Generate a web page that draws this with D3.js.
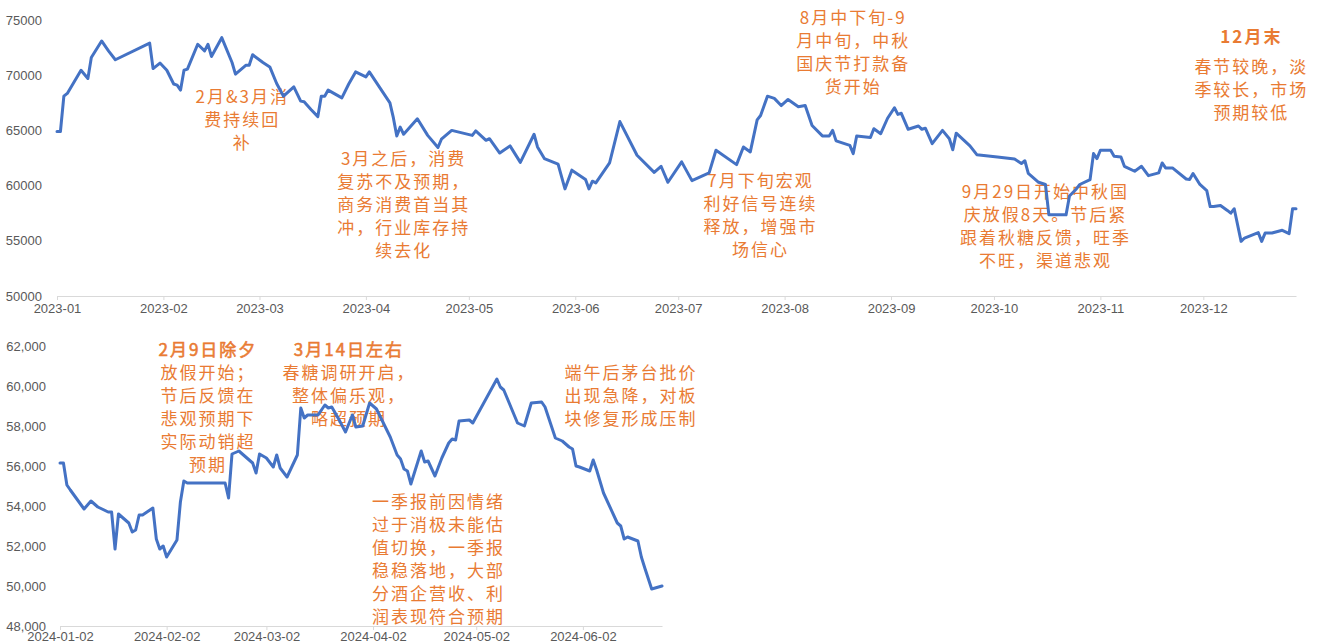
<!DOCTYPE html>
<html>
<head>
<meta charset="utf-8">
<script src="https://cdn.jsdelivr.net/npm/d3@7"></script>
<style>
  html, body { margin: 0; padding: 0; background: #ffffff; }
  svg { display: block; }
  .axis text { font-family: "Liberation Sans", Arial, sans-serif; font-size: 13px; fill: #595959; }
  .note { font-family: "Noto Sans CJK SC", sans-serif; font-size: 17px; fill: #E97B33; letter-spacing: 2px; }
</style>
</head>
<body>
<svg id="chart" width="1320" height="644"></svg>
<script>
// ---- 2023 series ----
const dates2023 = [
  "2023-01-01","2023-01-02","2023-01-03","2023-01-04","2023-01-08","2023-01-10","2023-01-11","2023-01-14","2023-01-16","2023-01-18",
  "2023-01-28","2023-01-29","2023-01-31","2023-02-02","2023-02-04","2023-02-05","2023-02-06","2023-02-07","2023-02-08","2023-02-11",
  "2023-02-13","2023-02-14","2023-02-15","2023-02-18","2023-02-21","2023-02-22","2023-02-25","2023-02-26","2023-02-27","2023-03-02",
  "2023-03-04","2023-03-06","2023-03-08","2023-03-11","2023-03-13","2023-03-14","2023-03-16","2023-03-18","2023-03-19","2023-03-20",
  "2023-03-21","2023-03-25","2023-03-27","2023-03-29","2023-04-01","2023-04-02","2023-04-05","2023-04-08","2023-04-09","2023-04-10",
  "2023-04-11","2023-04-12","2023-04-16","2023-04-19","2023-04-22","2023-04-23","2023-04-26","2023-05-02","2023-05-03","2023-05-06",
  "2023-05-07","2023-05-10","2023-05-13","2023-05-16","2023-05-20","2023-05-21","2023-05-23","2023-05-27","2023-05-29","2023-05-31",
  "2023-06-04","2023-06-05","2023-06-06","2023-06-07","2023-06-11","2023-06-14","2023-06-19","2023-06-24","2023-06-26","2023-06-28",
  "2023-07-02","2023-07-05","2023-07-10","2023-07-12","2023-07-18","2023-07-20","2023-07-22","2023-07-24","2023-07-25","2023-07-27",
  "2023-07-29","2023-07-31","2023-08-02","2023-08-05","2023-08-07","2023-08-09","2023-08-12","2023-08-14","2023-08-15","2023-08-16",
  "2023-08-20","2023-08-21","2023-08-22","2023-08-26","2023-08-27","2023-08-29","2023-08-31","2023-09-02","2023-09-03","2023-09-04",
  "2023-09-06","2023-09-09","2023-09-10","2023-09-11","2023-09-13","2023-09-16","2023-09-18","2023-09-19","2023-09-20","2023-09-24",
  "2023-09-26","2023-10-02","2023-10-07","2023-10-09","2023-10-10","2023-10-11","2023-10-14","2023-10-16","2023-10-17","2023-10-22",
  "2023-10-23","2023-10-25","2023-10-26","2023-10-29","2023-10-30","2023-10-31","2023-11-01","2023-11-04","2023-11-05","2023-11-07",
  "2023-11-08","2023-11-11","2023-11-13","2023-11-15","2023-11-18","2023-11-19","2023-11-20","2023-11-22","2023-11-26","2023-11-27",
  "2023-11-28","2023-11-30","2023-12-02","2023-12-03","2023-12-04","2023-12-06","2023-12-08","2023-12-09","2023-12-10","2023-12-12",
  "2023-12-13","2023-12-17","2023-12-18","2023-12-19","2023-12-21","2023-12-24","2023-12-26","2023-12-27","2023-12-28"
];
const values2023 = [
  64900,64900,68100,68350,70450,69700,71600,73100,72200,71400,
  72900,70600,71100,70450,69200,69100,68650,70450,70550,72800,
  72200,72800,71700,73400,71150,70100,70900,70900,71850,71150,
  70750,69250,68100,68950,67650,67600,66900,66250,68100,68100,
  68650,67950,69200,70300,69850,70300,68900,67500,66150,64500,
  65300,64650,66050,64550,63450,64200,65000,64550,64950,64100,
  64250,62950,63600,62100,64650,63500,62450,61950,59700,61400,
  60550,59700,60400,60250,62050,65800,62750,61200,61750,60300,
  62150,60450,61150,63200,61900,63500,63050,65950,66350,68100,
  67900,67250,67800,67150,67250,65450,64500,64500,65000,64050,
  63650,62900,64500,64350,65150,64700,66100,67050,66450,66550,
  65100,65400,65100,65200,63800,65000,64250,63250,64750,63600,
  62800,62600,62400,62000,62250,61100,60300,60100,57350,57350,
  59050,59700,60100,60550,62900,62450,63200,63200,62650,62600,
  61750,61300,61750,60900,61150,62050,61600,61600,60600,60550,
  61100,60100,59550,58100,58100,58200,57750,57500,57900,54950,
  55250,55750,54950,55700,55700,55950,55650,57900,57900
];

// ---- 2024 series ----
const dates2024 = [
  "2024-01-02","2024-01-03","2024-01-04","2024-01-05","2024-01-09","2024-01-11","2024-01-13","2024-01-16","2024-01-17","2024-01-18",
  "2024-01-19","2024-01-22","2024-01-23","2024-01-24","2024-01-25","2024-01-26","2024-01-29","2024-01-30","2024-01-31","2024-02-01",
  "2024-02-02","2024-02-05","2024-02-06","2024-02-07","2024-02-08","2024-02-19","2024-02-20","2024-02-21","2024-02-23","2024-02-27",
  "2024-02-28","2024-02-29","2024-03-02","2024-03-04","2024-03-05","2024-03-06","2024-03-08","2024-03-11","2024-03-12","2024-03-13",
  "2024-03-14","2024-03-17","2024-03-19","2024-03-20","2024-03-21","2024-03-23","2024-03-25","2024-03-27","2024-03-28","2024-03-30",
  "2024-04-01","2024-04-03","2024-04-07","2024-04-09","2024-04-10","2024-04-11","2024-04-12","2024-04-13","2024-04-16","2024-04-17",
  "2024-04-18","2024-04-20","2024-04-22","2024-04-24","2024-04-25","2024-04-26","2024-04-27","2024-04-30","2024-05-01","2024-05-08",
  "2024-05-09","2024-05-10","2024-05-14","2024-05-16","2024-05-18","2024-05-21","2024-05-22","2024-05-25","2024-05-27","2024-05-29",
  "2024-05-30","2024-05-31","2024-06-01","2024-06-04","2024-06-05","2024-06-06","2024-06-08","2024-06-12","2024-06-13","2024-06-14",
  "2024-06-15","2024-06-18","2024-06-19","2024-06-20","2024-06-22","2024-06-25"
];
const values2024 = [
  56150,56150,55050,54800,53850,54250,53950,53700,53700,51850,
  53600,53150,52700,52800,53550,53550,53900,52350,51850,52000,
  51450,52300,54200,55250,55150,55150,54400,56600,56750,56150,
  55650,56600,56400,55950,56550,55900,55450,56550,58900,58400,
  58550,58550,59050,58900,58950,58350,57700,58550,57950,58000,
  59150,58850,57450,56550,56350,55850,55750,55100,56750,56200,
  56250,55500,56400,57150,57350,57300,58250,58300,58150,60350,
  59950,59800,58150,58000,59150,59200,58950,57400,57250,56950,
  56850,56000,55950,55750,56300,55800,54650,53150,53000,52350,
  52450,52250,51450,50900,49850,50000
];

// ---- axis ticks ----
const ticks2023 = ["2023-01","2023-02","2023-03","2023-04","2023-05","2023-06","2023-07","2023-08","2023-09","2023-10","2023-11","2023-12"];
const ticks2024 = ["2024-01-02","2024-02-02","2024-03-02","2024-04-02","2024-05-02","2024-06-02"];
const yTicks2023 = [50000,55000,60000,65000,70000,75000];
const yTicks2024 = [48000,50000,52000,54000,56000,58000,60000,62000];

// ---- annotations, anchored at (date, value) of their first line ----
const notes2023 = [
  { at: ["2023-02-24", 68000], lines: ["2月&3月消", "费持续回", "补"] },
  { at: ["2023-04-12", 62400], lines: ["3月之后，消费", "复苏不及预期，", "商务消费首当其", "冲，行业库存持", "续去化"] },
  { at: ["2023-07-25", 60400], lines: ["7月下旬宏观", "利好信号连续", "释放，增强市", "场信心"] },
  { at: ["2023-08-21", 75200], lines: ["8月中下旬-9", "月中旬，中秋", "国庆节打款备", "货开始"] },
  { at: ["2023-10-16", 59450], lines: ["9月29日开始中秋国", "庆放假8天。节后紧", "跟着秋糖反馈，旺季", "不旺，渠道悲观"] },
  { at: ["2023-12-15", 73500], lines: ["12月末"], bold: true },
  { at: ["2023-12-15", 70700], lines: ["春节较晚，淡", "季较长，市场", "预期较低"] }
];
const notes2024 = [
  { at: ["2024-02-14", 61800], lines: ["2月9日除夕", "放假开始；", "节后反馈在", "悲观预期下", "实际动销超", "预期"], headline: true },
  { at: ["2024-03-26", 61800], lines: ["3月14日左右", "春糖调研开启，", "整体偏乐观，", "略超预期"], headline: true },
  { at: ["2024-04-21", 54200], lines: ["一季报前因情绪", "过于消极未能估", "值切换，一季报", "稳稳落地，大部", "分酒企营收、利", "润表现符合预期"] },
  { at: ["2024-06-16", 60650], lines: ["端午后茅台批价", "出现急降，对板", "块修复形成压制"] }
];

const svg = d3.select("#chart");
const parseDay = d3.timeParse("%Y-%m-%d");
const parseMonth = d3.timeParse("%Y-%m");
const noteColor = "#E97B33";

function drawPanel(cfg) {
  const g = svg.append("g");
  const data = cfg.dates.map((d, i) => ({ date: parseDay(d), value: cfg.values[i] }));

  const x = d3.scaleTime().domain(cfg.xDomain).range(cfg.xRange);
  const y = d3.scaleLinear().domain(cfg.yDomain).range(cfg.yRange);

  // x axis
  const xAxis = d3.axisBottom(x)
    .tickValues(cfg.xTicks.map(cfg.tickParse))
    .tickFormat(cfg.tickFormat)
    .tickSizeInner(4).tickSizeOuter(0).tickPadding(cfg.xLabelPad);
  const gx = g.append("g").attr("class", "axis")
    .attr("transform", `translate(0,${cfg.yRange[0]})`)
    .call(xAxis);
  gx.select(".domain").attr("stroke", "#d9d9d9").attr("stroke-width", 1);
  gx.selectAll(".tick line").attr("stroke", "#d9d9d9");

  // y axis labels only
  const yAxis = d3.axisLeft(y).tickValues(cfg.yTicks).tickFormat(cfg.yFormat)
    .tickSize(0).tickPadding(0);
  const gy = g.append("g").attr("class", "axis")
    .attr("transform", `translate(${cfg.yLabelX},0)`)
    .call(yAxis);
  gy.select(".domain").remove();

  // annotations
  cfg.notes.forEach(n => {
    const cx = x(parseDay(n.at[0]));
    const cy = y(n.at[1]);
    const t = g.append("text").attr("class", "note").attr("text-anchor", "middle");
    n.lines.forEach((line, i) => {
      const ts = t.append("tspan")
        .attr("x", cx)
        .attr("y", cy + i * 23)
        .attr("dy", "0.35em")
        .text(line);
      if (n.bold) {
        ts.attr("font-weight", 700);
      } else if (n.headline && i === 0) {
        // slightly heavier headline line
        ts.attr("stroke", noteColor).attr("stroke-width", 0.55);
      }
    });
  });

  // price line
  const line = d3.line().x(d => x(d.date)).y(d => y(d.value)).curve(d3.curveLinear);
  g.append("path").datum(data)
    .attr("fill", "none")
    .attr("stroke", "#4472C4")
    .attr("stroke-width", 3)
    .attr("stroke-linejoin", "round")
    .attr("stroke-linecap", "round")
    .attr("d", line);
}

drawPanel({
  dates: dates2023, values: values2023,
  xDomain: [parseDay("2023-01-01"), parseDay("2023-12-28")], xRange: [57, 1296],
  yDomain: [50000, 75000], yRange: [296, 20],
  xTicks: ticks2023, tickParse: parseMonth, tickFormat: d3.timeFormat("%Y-%m"), xLabelPad: 4,
  yTicks: yTicks2023, yFormat: d3.format("d"), yLabelX: 42,
  notes: notes2023
});

drawPanel({
  dates: dates2024, values: values2024,
  xDomain: [parseDay("2024-01-02"), parseDay("2024-06-25")], xRange: [60, 662],
  yDomain: [48000, 62000], yRange: [626, 346],
  xTicks: ticks2024, tickParse: parseDay, tickFormat: d3.timeFormat("%Y-%m-%d"), xLabelPad: 2,
  yTicks: yTicks2024, yFormat: d3.format(","), yLabelX: 46,
  notes: notes2024
});
</script>
</body>
</html>
